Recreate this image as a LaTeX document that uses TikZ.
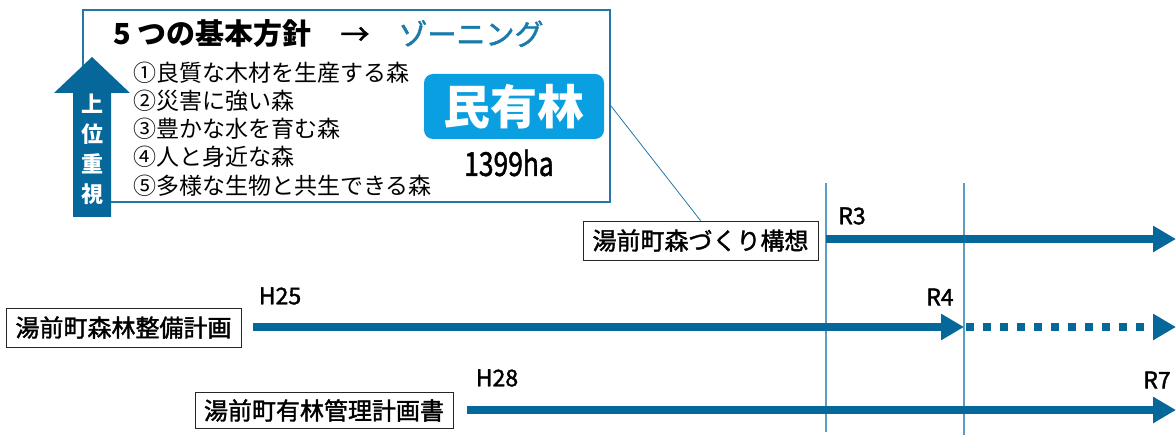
\documentclass[tikz,border=0pt]{standalone}
\usepackage{fontspec}
\usepackage{graphicx}
\setmainfont{Noto Sans CJK JP}
\newfontfamily\medfont{Noto Sans CJK JP}[FakeBold=1.6]
\usetikzlibrary{arrows.meta}
\definecolor{dkblue}{HTML}{05679A}
\definecolor{boxblue}{HTML}{2576A8}
\definecolor{vline}{HTML}{5E9CC6}
\definecolor{cyanbox}{HTML}{0A9FE0}
\definecolor{zoneblue}{HTML}{1A7AAA}
\tikzset{
  plainbox/.style={draw=black!85, line width=0.9pt, fill=white, inner sep=0pt, font=\fontsize{24}{26}\medfont},
  tl/.style={line width=8pt, draw=dkblue, -{Triangle[length=23pt,width=25pt]}},
  yr/.style={font=\fontsize{23}{25}\medfont, inner sep=0pt},
  item/.style={anchor=west, inner sep=0pt, font=\fontsize{23}{25}\selectfont},
  vl/.style={draw=vline, line width=1.3pt},
  upk/.style={font=\fontsize{22}{24}\selectfont\bfseries, text=white, inner sep=0pt}
}
\begin{document}
\begin{tikzpicture}[x=1pt,y=-1pt]
\useasboundingbox (0,0) rectangle (1176,435);
% vertical year lines
\coordinate (v1t) at (826,183); \coordinate (v1b) at (826,432);
\coordinate (v2t) at (964,183); \coordinate (v2b) at (964,435);
\draw[vl] (v1t) -- (v1b);
\draw[vl] (v2t) -- (v2b);
% main box
\node[draw=boxblue, line width=2pt, fill=white, minimum width=527pt, minimum height=192pt, inner sep=0pt] (main) at (346.5,106) {};
% up arrow
\fill[dkblue] (73,217) -- (73,93) -- (54,93) -- (92,57) -- (130,93) -- (111,93) -- (111,217) -- cycle;
\node[upk] (u1) at (92,104) {上};
\node[upk] (u2) at (92,134) {位};
\node[upk] (u3) at (92,164) {重};
\node[upk] (u4) at (92,194) {視};
% title
\node[anchor=west, inner sep=0pt, font=\fontsize{29}{31}\selectfont] (title) at (113,34) {{\bfseries 5 つの基本方針}　{\mdseries\medfont →　\textcolor{zoneblue}{ゾーニング}}};
% items
\node[item] (i1) at (133,73) {①良質な木材を生産する森};
\node[item] (i2) at (133,101) {②災害に強い森};
\node[item] (i3) at (133,129) {③豊かな水を育む森};
\node[item] (i4) at (133,157) {④人と身近な森};
\node[item] (i5) at (133,186) {⑤多様な生物と共生できる森};
% minyurin
\node[fill=cyanbox, rounded corners=9pt, minimum width=180pt, minimum height=65pt, inner sep=0pt, text=white, font=\fontsize{47}{49}\selectfont\bfseries] (minyu) at (514,106.5) {民有林};
\node[inner sep=0pt, font=\fontsize{33}{35}\medfont] (ha) at (509,163) {\scalebox{0.8}[1]{1399ha}};
% plan boxes
\node[plainbox, minimum width=235pt, minimum height=39pt] (mori) at (700.5,240.5) {湯前町森づくり構想};
\node[plainbox, minimum width=235pt, minimum height=39pt] (seibi) at (123.5,327.5) {湯前町森林整備計画};
\node[plainbox, minimum width=258pt, minimum height=36pt] (kanri) at (324,410.5) {湯前町有林管理計画書};
% leader line
\draw[draw=boxblue, line width=0.8pt] (main.east) -- (mori.north);
% timeline arrows
\coordinate (r3e) at (1176,239);
\coordinate (r4e) at (964,327);
\coordinate (dote) at (1176,327);
\coordinate (r7e) at (1176,410);
\draw[tl] ([xshift=8pt]mori.east |- r3e) -- (r3e);
\draw[tl] ([xshift=12pt]seibi.east |- r4e) -- (r4e);
\draw[tl, dash pattern=on 8pt off 9pt] ([xshift=2pt]r4e) -- (dote);
\draw[tl] ([xshift=14pt]kanri.east |- r7e) -- (r7e);
% year labels
\node[yr] (lr3) at (852,216) {R3};
\node[yr] (lh25) at (280,296) {H25};
\node[yr] (lr4) at (940,297) {R4};
\node[yr] (lh28) at (497,378) {H28};
\node[yr] (lr7) at (1157,380) {R7};
\end{tikzpicture}
\end{document}
